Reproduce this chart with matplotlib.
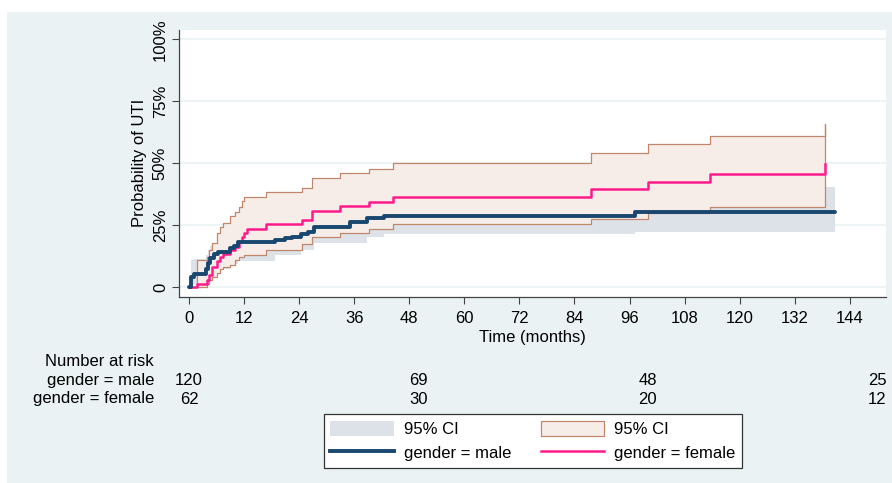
import matplotlib
matplotlib.use("Agg")
import matplotlib.pyplot as plt
from matplotlib.patches import Patch, Rectangle
from matplotlib.lines import Line2D
from matplotlib.transforms import blended_transform_factory

plt.rcParams['font.family'] = ['Liberation Sans', 'DejaVu Sans']

# male Kaplan-Meier failure curve (months, %)
t_male = [0, 0.4, 1.0, 3.6, 4.1, 4.6, 5.4, 6.3, 8.9, 9.8, 10.6, 18.8, 21.0, 22.5,
          24.5, 26.0, 27.2, 35.1, 38.7, 42.4, 97.2, 140.8]
p_male = [0, 4.3, 5.5, 7.5, 9.7, 11.7, 13.4, 14.4, 15.7, 16.8, 18.3, 19.1, 19.8, 20.4,
          21.4, 22.4, 24.4, 26.2, 27.9, 28.8, 30.4, 30.4]
lo_male = [0, 0.8, 1.0, 2.5, 4.0, 5.5, 6.5, 7.5, 8.5, 9.5, 10.7, 13.0, 13.0, 13.0,
           15.0, 15.0, 17.8, 17.8, 20.4, 21.4, 22.2, 22.2]
hi_male = [0, 11.0, 11.5, 13.0, 15.0, 16.5, 17.5, 20.0, 22.0, 24.0, 25.0, 27.0, 27.5, 28.5,
           29.5, 30.0, 33.0, 34.0, 36.0, 37.0, 40.3, 40.3]

# female curve
t_fem = [0, 1.7, 3.9, 4.4, 5.1, 6.0, 6.8, 7.5, 8.9, 10.0, 10.8, 11.5, 12.0, 12.6,
         16.7, 24.6, 26.8, 33.0, 39.3, 44.5, 87.6, 100.1, 113.6, 138.5]
p_fem = [0, 1.3, 2.9, 5.0, 8.1, 10.4, 12.4, 13.4, 15.0, 16.4, 18.4, 20.4, 21.7, 23.4,
         25.5, 27.2, 30.7, 32.9, 34.5, 36.5, 39.5, 42.6, 45.7, 49.7]
lo_fem = [0, 0.3, 1.3, 2.9, 4.3, 5.6, 7.3, 8.0, 9.0, 11.0, 12.4, 12.4, 13.0, 13.0,
          15.0, 17.4, 20.4, 21.7, 23.7, 25.5, 27.5, 29.8, 32.5, 32.5]
hi_fem = [0, 11.0, 12.3, 15.0, 17.7, 22.0, 24.4, 26.0, 28.7, 30.5, 32.5, 34.9, 36.5, 36.5,
          38.3, 40.2, 44.0, 46.2, 47.7, 50.3, 54.3, 57.6, 61.0, 65.8]

x_ticks = list(range(0, 145, 12))
y_ticks = [0, 25, 50, 75, 100]
y_labels = ['0', '25%', '50%', '75%', '100%']

risk_times = [0, 50, 100, 150]
risk_male = [120, 69, 48, 25]
risk_fem = [62, 30, 20, 12]

navy = '#1A476F'
pink = '#FF1A8C'
brown = '#C0876A'
fill_f = '#F6EDE9'
fill_m = '#DDE2E9'
bg = '#EAF2F3'
fs = 12

fig = plt.figure(figsize=(8.92, 4.83), dpi=100, facecolor='white')
fig.patches.append(Rectangle((7 / 892, 0), 1, 1 - 12 / 483, transform=fig.transFigure,
                             facecolor=bg, edgecolor='none', zorder=-10))

ax = fig.add_axes([179 / 892, 1 - 296.7 / 483, 707 / 892, 266.7 / 483])
ax.set_facecolor('white')

# confidence bands
ax.fill_between(t_male, lo_male, hi_male, step='post', facecolor=fill_m, edgecolor='none', zorder=1)
ax.fill_between(t_fem, lo_fem, hi_fem, step='post', facecolor=fill_f, edgecolor=brown,
                linewidth=0.9, zorder=2)
# curves
ax.step(t_fem, p_fem, where='post', color=pink, lw=1.8, zorder=3)
ax.step(t_male, p_male, where='post', color=navy, lw=2.8, zorder=4, solid_capstyle='round')

ax.set_xlim(-2.18, 151.9)
ax.set_ylim(-3.8, 103.75)
ax.set_xticks(x_ticks)
ax.set_yticks(y_ticks)
ax.set_yticklabels(y_labels, rotation=90, va='center')
ax.tick_params(labelsize=fs, length=5, color='#444444', pad=3)
ax.tick_params(axis='x', pad=5)
for y in y_ticks:
    ax.axhline(y, color=bg, lw=1.2, zorder=0)
for s in ['top', 'right']:
    ax.spines[s].set_visible(False)
for s in ['left', 'bottom']:
    ax.spines[s].set_color('#444444')
    ax.spines[s].set_linewidth(0.9)

ax.set_xlabel('Time (months)', fontsize=fs, labelpad=3)
ax.set_ylabel('Probability of UTI', fontsize=fs, labelpad=4)

# number at risk table
tr = blended_transform_factory(ax.transData, fig.transFigure)
fig.text(154 / 892, 1 - 361.7 / 483, 'Number at risk', ha='right', va='center', fontsize=fs)
fig.text(154 / 892, 1 - 380.7 / 483, 'gender = male', ha='right', va='center', fontsize=fs)
fig.text(154 / 892, 1 - 399 / 483, 'gender = female', ha='right', va='center', fontsize=fs)
for t, nm, nf in zip(risk_times, risk_male, risk_fem):
    ax.text(t, 1 - 380.7 / 483, str(nm), transform=tr, ha='center', va='center', fontsize=fs, clip_on=False)
    ax.text(t, 1 - 399 / 483, str(nf), transform=tr, ha='center', va='center', fontsize=fs, clip_on=False)

handles = [Patch(facecolor=fill_m, edgecolor='none'),
           Line2D([], [], color=navy, lw=2.8),
           Patch(facecolor=fill_f, edgecolor=brown, linewidth=0.9),
           Line2D([], [], color=pink, lw=1.8)]
labels = ['95% CI', 'gender = male', '95% CI', 'gender = female']
leg = fig.legend(handles, labels, ncol=2, loc='center', bbox_to_anchor=(533 / 892, 1 - 441 / 483),
                 fontsize=fs, handlelength=3.8, handleheight=1.05, handletextpad=0.6,
                 columnspacing=1.8, borderpad=0.4, labelspacing=0.45,
                 fancybox=False, framealpha=1, edgecolor='#333333')
leg.get_frame().set_linewidth(0.9)

fig.savefig('out.png', dpi=100, facecolor=fig.get_facecolor())
